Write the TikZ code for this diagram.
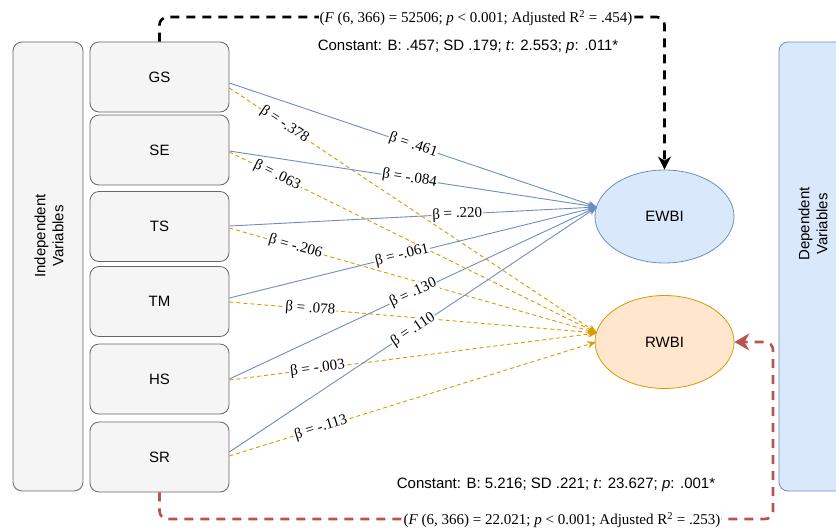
\documentclass[tikz,border=0pt]{standalone}
\usepackage{fontspec}
\setmainfont{Liberation Sans}
\newfontfamily\tnr{Liberation Serif}
\usetikzlibrary{arrows.meta,shapes.geometric}
\definecolor{boxfill}{HTML}{F5F5F5}
\definecolor{boxline}{HTML}{666666}
\definecolor{bluefill}{HTML}{DAE8FC}
\definecolor{blueline}{HTML}{6C8EBF}
\definecolor{orangefill}{HTML}{FFE6CC}
\definecolor{orangeline}{HTML}{D79B00}
\definecolor{redline}{HTML}{B85450}
\begin{document}
\begin{tikzpicture}[x=1pt,y=-1pt,
  varbox/.style={draw=boxline, fill=boxfill, rounded corners=9pt, minimum width=139pt, minimum height=70pt, inner sep=0pt, line width=0.8pt, font=\fontsize{15}{18}\selectfont},
  sidebox/.style={draw=boxline, fill=boxfill, rounded corners=9pt, minimum width=70pt, minimum height=449pt, inner sep=0pt, line width=0.8pt},
  depbox/.style={draw=blueline, fill=bluefill, rounded corners=9pt, minimum width=70pt, minimum height=449pt, inner sep=0pt, line width=0.8pt},
  sidetext/.style={rotate=90, align=center, font=\fontsize{15}{18}\selectfont},
  ell/.style={ellipse, minimum width=139pt, minimum height=93pt, inner sep=0pt, line width=0.8pt, font=\fontsize{15}{18}\selectfont},
  bluearr/.style={draw=blueline, line width=0.9pt, -{Stealth[length=9pt,width=7pt]}},
  orangearr/.style={draw=orangeline, line width=0.9pt, dash pattern=on 4pt off 3pt, -{Stealth[length=9pt,width=7pt]}},
  beta/.style={font=\tnr\fontsize{15}{18}\selectfont, fill=white, inner sep=1pt, sloped},
  stat/.style={font=\tnr\fontsize{15}{18}\selectfont, fill=white, inner sep=1pt},
  const/.style={font=\fontsize{15}{18}\selectfont, inner sep=1pt},
  blackdash/.style={draw=black, line width=2.6pt, dash pattern=on 9pt off 7pt, rounded corners=8pt, -{Stealth[length=13pt,width=13pt,inset=4pt]}},
  reddash/.style={draw=redline, line width=2.6pt, dash pattern=on 9pt off 7pt, rounded corners=8pt, -{Stealth[length=15pt,width=17pt,inset=5pt]}}
]
\useasboundingbox (0,0) rectangle (836,531);

% side boxes
\node[sidebox] (ind) at (48,266.5) {};
\node[sidetext] (indtext) at (49,236) {Independent\\Variables};
\node[depbox] (dep) at (814,266.5) {};
\node[sidetext] (deptext) at (813,224) {Dependent\\Variables};

% variable boxes
\node[varbox] (GS) at (159.5,77) {GS};
\node[varbox] (SE) at (159.5,150) {SE};
\node[varbox] (TS) at (159.5,226.5) {TS};
\node[varbox] (TM) at (159.5,301.5) {TM};
\node[varbox] (HS) at (159.5,379) {HS};
\node[varbox] (SR) at (159.5,457) {SR};

% outcome ellipses
\node[ell, draw=blueline, fill=bluefill] (EWBI) at (664.5,216.5) {EWBI};
\node[ell, draw=orangeline, fill=orangefill] (RWBI) at (664.5,342) {RWBI};

\coordinate (ewin) at (597,207);
\coordinate (rwin1) at (597,333);
\coordinate (rwin2) at (596,342);

% orange dashed paths (RWBI)
\draw[orangearr] ([yshift=-11pt]GS.east) -- node[beta,pos=0.15]{β = -.378} (rwin1);
\draw[orangearr] ([yshift=-2pt]SE.east) -- node[beta,pos=0.13]{β = .063} (rwin1);
\draw[orangearr] ([yshift=-1.5pt]TS.east) -- node[beta,pos=0.18]{β = -.206} (rwin1);
\draw[orangearr] ([yshift=-0.5pt]TM.east) -- node[beta,pos=0.22]{β = .078} (rwin1);
\draw[orangearr] ([yshift=-1pt]HS.east) -- node[beta,pos=0.24]{β = -.003} (rwin1);
\draw[orangearr] ([yshift=1pt]SR.east) -- node[beta,pos=0.25]{β = -.113} (rwin2);

% blue paths (EWBI)
\draw[bluearr] ([yshift=-6pt]GS.east) -- node[beta,pos=0.50]{β = .461} (ewin);
\draw[bluearr] ([yshift=-1pt]SE.east) -- node[beta,pos=0.49]{β = -.084} (ewin);
\draw[bluearr] ([yshift=0.5pt]TS.east) -- node[beta,pos=0.62]{β = .220} (ewin);
\draw[bluearr] ([yshift=3.5pt]TM.east) -- node[beta,pos=0.47]{β = -.061} (ewin);
\draw[bluearr] (HS.east) -- node[beta,pos=0.50]{β = .130} (ewin);
\draw[bluearr] ([yshift=5pt]SR.east) -- node[beta,pos=0.50]{β = .110} (ewin);

% model fit connectors
\coordinate (tr) at (664.5,17);
\draw[blackdash] (GS.north) |- (tr) -- (EWBI.north);
\node[stat] (topstat) at (476,18) {(\textit{F} (6, 366) = 52506; \textit{p} < 0.001; Adjusted R\textsuperscript{2} = .454)};
\node[const] (topconst) at (468,47) {Constant: B: .457; SD .179; \textit{t}: 2.553; \textit{p}: .011*};

\coordinate (br) at (773,519);
\draw[reddash] (SR.south) |- (br) |- (RWBI.east);
\node[stat] (botstat) at (562,520) {(\textit{F} (6, 366) = 22.021; \textit{p} < 0.001; Adjusted R\textsuperscript{2} = .253)};
\node[const] (botconst) at (556,485) {Constant: B: 5.216; SD .221; \textit{t}: 23.627; \textit{p}: .001*};
\end{tikzpicture}
\end{document}
